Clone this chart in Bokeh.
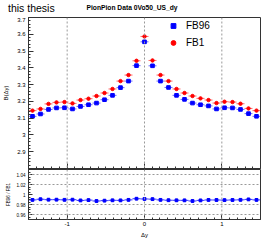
from bokeh.plotting import figure
from bokeh.layouts import column
from bokeh.models import (Range1d, FixedTicker, Span, ColumnDataSource,
                          Legend, LegendItem, Div)
from bokeh.embed import file_html
from bokeh.resources import INLINE

# ---------------- data ----------------
dy_lo, dy_hi, n_bins = -1.5, 1.5, 29
fb1 = [3.145, 3.155, 3.185, 3.194, 3.196, 3.188, 3.208, 3.216, 3.232, 3.250,
       3.274, 3.321, 3.357, 3.442, 3.587, 3.444, 3.357, 3.321, 3.274, 3.250,
       3.232, 3.218, 3.208, 3.190, 3.198, 3.196, 3.186, 3.158, 3.145]
fb1_err = [0.004] * 13 + [0.006, 0.008, 0.006] + [0.004] * 13
fb96 = [3.111, 3.125, 3.152, 3.161, 3.162, 3.155, 3.170, 3.180, 3.190, 3.210,
        3.236, 3.282, 3.321, 3.413, 3.555, 3.412, 3.321, 3.283, 3.236, 3.212,
        3.190, 3.180, 3.173, 3.155, 3.162, 3.161, 3.152, 3.127, 3.111]
fb96_err = [0.004] * 13 + [0.006, 0.008, 0.006] + [0.004] * 13
ratio_err = [0.003] * 29

b_ticks = [2.9, 3.0, 3.1, 3.2, 3.3, 3.4, 3.5, 3.6, 3.7]
b_tick_labels = ["2.9", "3", "3.1", "3.2", "3.3", "3.4", "3.5", "3.6", "3.7"]
r_ticks = [0.96, 0.98, 1.0, 1.02, 1.04]
r_tick_labels = ["0.96", "0.98", "1", "1.02", "1.04"]
x_ticks = [-1, 0, 1]
x_tick_labels = ["-1", "0", "1"]
ref_lines_x = [-1, 0, 1]
ref_lines_ratio = [0.96, 0.98, 1.02, 1.04]

title_text = "PionPion Data 0Vo50_US_dy"
label_tag = "this thesis"
y_title = "B(\u0394y)"
ratio_title = "FB96 / FB1"
x_title = "\u0394y"

# ---------------- derived ----------------
bw = (dy_hi - dy_lo) / n_bins
xc = [dy_lo + (i + 0.5) * bw for i in range(n_bins)]
ratio = [b / r for b, r in zip(fb96, fb1)]

FONT = "Liberation Sans"
BLUE = "#0000ff"
RED = "#ff0000"
AX = "#333333"
W = 264

def src(y, e):
    return ColumnDataSource(dict(
        x=xc, y=y, xl=[v - bw / 2 for v in xc], xr=[v + bw / 2 for v in xc],
        yl=[a - b for a, b in zip(y, e)], yh=[a + b for a, b in zip(y, e)]))

def style_axes(p, yticks, ylabels, ylab_size, xlab_size, show_x_labels):
    step = yticks[1] - yticks[0]
    for ax in p.yaxis:
        ax.ticker = FixedTicker(ticks=yticks,
                                minor_ticks=[round(yticks[0] - step + k * step / 5, 4)
                                             for k in range(5 * (len(yticks) + 1) + 1)])
        ax.major_label_overrides = {t: l for t, l in zip(yticks, ylabels)}
        ax.major_tick_in = 5
        ax.major_tick_out = 0
        ax.minor_tick_in = 2
        ax.minor_tick_out = 0
        ax.major_label_standoff = 3
        ax.major_label_text_font = FONT
        ax.major_label_text_font_size = ylab_size
        ax.major_label_text_color = "#000000"
        ax.axis_line_color = AX
        ax.major_tick_line_color = AX
        ax.minor_tick_line_color = AX
        ax.axis_label_text_font = FONT
        ax.axis_label_text_font_style = "normal"
        ax.axis_label_text_color = "#000000"
    for ax in p.xaxis:
        ax.ticker = FixedTicker(ticks=x_ticks,
                                minor_ticks=[round(-1.5 + k * 0.1, 3) for k in range(31)])
        ax.major_tick_in = 5
        ax.major_tick_out = 0
        ax.minor_tick_in = 2
        ax.minor_tick_out = 0
        ax.axis_line_color = AX
        ax.major_tick_line_color = AX
        ax.minor_tick_line_color = AX
        ax.major_label_text_font = FONT
        ax.major_label_text_color = "#000000"
        ax.major_label_text_font_size = xlab_size
        ax.axis_label_text_font = FONT
        ax.axis_label_text_font_style = "normal"
        ax.axis_label_text_color = "#000000"
        if show_x_labels:
            ax.major_label_standoff = 2
            ax.major_label_overrides = {t: l for t, l in zip(x_ticks, x_tick_labels)}
        else:
            ax.major_label_standoff = 0
            ax.major_label_overrides = {t: "" for t in x_ticks}
    p.xgrid.visible = False
    p.ygrid.visible = False
    p.outline_line_color = AX
    p.outline_line_width = 1
    p.background_fill_color = "white"
    p.border_fill_color = "white"

xr = Range1d(dy_lo, dy_hi)

# ---------------- header (real text) ----------------
header = Div(
    text=(f'<div style="position:relative;width:{W}px;height:17px;">'
          f'<span style="position:absolute;left:8px;top:3px;line-height:1;'
          f'font-family:\'{FONT}\';font-size:10.5px;color:#000;white-space:nowrap;">{label_tag}</span>'
          f'<div style="position:absolute;left:0;top:5px;width:{W}px;text-align:center;line-height:1;'
          f'font-family:\'{FONT}\';font-size:6.7px;font-weight:bold;color:#000;white-space:nowrap;">'
          f'{title_text}</div></div>'),
    width=W, height=17, margin=0)

# ---------------- upper panel ----------------
p = figure(width=W, height=152, x_range=xr, y_range=Range1d(2.8, 3.7),
           output_backend="svg", toolbar_location=None,
           min_border_left=27, min_border_right=4, min_border_top=0, min_border_bottom=1)
p.title.visible = False
style_axes(p, b_ticks, b_tick_labels, "6px", "6px", False)
p.yaxis.axis_label = y_title
p.yaxis.axis_label_text_font_size = "6px"
p.yaxis.axis_label_standoff = 5

for xl in ref_lines_x:
    p.add_layout(Span(location=xl, dimension="height", line_color="#999999",
                      line_dash="2 2", line_width=1))

s1 = src(fb1, fb1_err)
s96 = src(fb96, fb96_err)
for s, c in ((s1, RED), (s96, BLUE)):
    p.segment("xl", "y", "xr", "y", source=s, line_color=c, line_alpha=0.6, line_width=1)
    p.segment("x", "yl", "x", "yh", source=s, line_color=c, line_alpha=0.75, line_width=1)
r96 = p.scatter("x", "y", source=s96, marker="square", size=3.6, color=BLUE)
r1 = p.scatter("x", "y", source=s1, marker="circle", size=3.4, color=RED)

leg = Legend(items=[LegendItem(label="FB96", renderers=[r96]),
                    LegendItem(label="FB1", renderers=[r1])],
             location=(139, 117), padding=0, margin=0, spacing=0,
             glyph_width=12, glyph_height=17, label_height=17, label_standoff=7,
             label_text_font=FONT, label_text_font_size="10px",
             label_text_color="#000000",
             border_line_color=None, background_fill_alpha=0)
p.add_layout(leg)

# ---------------- ratio panel ----------------
q = figure(width=W, height=72, x_range=xr, y_range=Range1d(0.95, 1.05),
           output_backend="svg", toolbar_location=None,
           min_border_left=27, min_border_right=4, min_border_top=0, min_border_bottom=22)
q.title.visible = False
style_axes(q, r_ticks, r_tick_labels, "4.6px", "6px", True)
for ax in q.yaxis:
    ax.ticker = FixedTicker(ticks=r_ticks,
                            minor_ticks=[round(0.95 + k * 0.005, 4) for k in range(21)])
    ax.major_tick_in = 4
    ax.minor_tick_in = 2
    ax.major_label_standoff = 3
q.yaxis.axis_label = ratio_title
q.yaxis.axis_label_text_font_size = "4.6px"
q.yaxis.axis_label_standoff = 3
q.xaxis.axis_label = x_title
q.xaxis.axis_label_text_font_size = "6px"
q.xaxis.axis_label_standoff = 3

for xl in ref_lines_x:
    q.add_layout(Span(location=xl, dimension="height", line_color="#999999",
                      line_dash="2 2", line_width=1))
for yl in ref_lines_ratio:
    q.add_layout(Span(location=yl, dimension="width", line_color="#999999",
                      line_dash="2 2", line_width=1))

sr = src(ratio, ratio_err)
q.segment("xl", "y", "xr", "y", source=sr, line_color=BLUE, line_alpha=0.8, line_width=1)
q.segment("x", "yl", "x", "yh", source=sr, line_color=BLUE, line_alpha=0.9, line_width=1)
q.scatter("x", "y", source=sr, marker="square", size=2.8, color=BLUE)

layout = column(header, p, q, spacing=0)
open("out.html", "w").write(file_html(layout, INLINE))
